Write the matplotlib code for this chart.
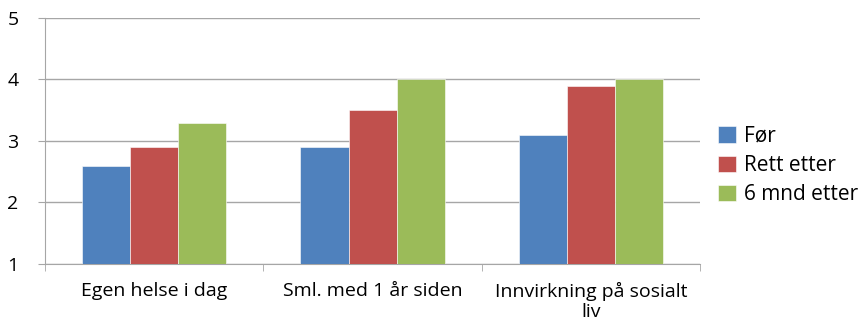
import matplotlib.pyplot as plt
import numpy as np

categories = ["Egen helse i dag", "Sml. med 1 år siden", "Innvirkning på sosialt\nliv"]
series_names = ["Før", "Rett etter", "6 mnd etter"]
for_vals = [2.6, 2.9, 3.1]
rett_etter = [2.9, 3.5, 3.9]
seks_mnd = [3.3, 4.0, 4.0]
colors = ["#4F81BD", "#C0504D", "#9BBB59"]

plt.rcParams["font.family"] = ["Open Sans", "DejaVu Sans"]

fig = plt.figure(figsize=(8.59, 3.2), dpi=100)
ax = fig.add_axes([0.0524, 0.175, 0.7626, 0.769])

x = np.arange(len(categories))
w = 0.22
for i, (vals, name) in enumerate(zip([for_vals, rett_etter, seks_mnd], series_names)):
    ax.bar(x + (i - 1) * w, [v - 1 for v in vals], w, bottom=1, color=colors[i],
           label=name, zorder=3, edgecolor="white", linewidth=0.4)

ax.set_xlim(-0.5, len(categories) - 0.5)
ax.set_ylim(1, 5)
ax.set_yticks([1, 2, 3, 4, 5])
ax.yaxis.grid(True, color="#A6A6A6", linewidth=1.0, zorder=0)
ax.set_axisbelow(True)

ax.set_xticks(x)
ax.set_xticklabels(categories, fontsize=14, linespacing=1.15)
ax.set_xticks(np.arange(len(categories) + 1) - 0.5, minor=True)
ax.tick_params(axis="x", which="major", length=0, pad=13)
ax.tick_params(axis="x", which="minor", length=5, color="#A6A6A6")
ax.tick_params(axis="y", length=5, color="#A6A6A6", labelsize=14, pad=14)

for s in ["top", "right"]:
    ax.spines[s].set_visible(False)
for s in ["left", "bottom"]:
    ax.spines[s].set_color("#A6A6A6")

ax.legend(loc="center left", bbox_to_anchor=(1.015, 0.40), frameon=False, fontsize=15,
          handlelength=0.85, handleheight=0.85, handletextpad=0.4, labelspacing=0.4,
          borderaxespad=0)

fig.savefig("out.png", dpi=100)
